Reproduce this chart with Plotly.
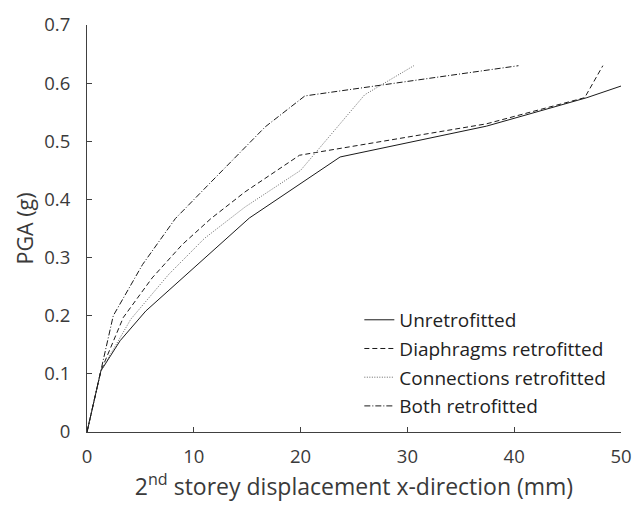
import plotly.graph_objects as go

# Unretrofitted
x_unretro = [0, 1.3, 3.1, 5.5, 15.2, 20.0, 23.7, 37.4, 46.8, 50.0]
y_unretro = [0, 0.105, 0.157, 0.208, 0.368, 0.428, 0.473, 0.526, 0.575, 0.595]

# Diaphragms retrofitted
x_diaph = [0, 1.3, 3.4, 6.1, 8.9, 11.6, 14.8, 19.9, 37.4, 46.6, 48.3]
y_diaph = [0, 0.105, 0.197, 0.265, 0.322, 0.367, 0.413, 0.476, 0.530, 0.575, 0.630]

# Connections retrofitted
x_conn = [0, 1.3, 4.1, 7.65, 11.0, 14.8, 20.0, 26.0, 30.6]
y_conn = [0, 0.105, 0.194, 0.271, 0.333, 0.387, 0.450, 0.580, 0.630]

# Both retrofitted
x_both = [0, 1.3, 2.46, 5.2, 8.27, 11.3, 14.4, 16.7, 20.4, 40.4]
y_both = [0, 0.105, 0.200, 0.288, 0.367, 0.424, 0.481, 0.525, 0.578, 0.630]

names = ["Unretrofitted", "Diaphragms retrofitted", "Connections retrofitted", "Both retrofitted"]

x_ticks = [0, 10, 20, 30, 40, 50]
y_ticks = [0, 0.1, 0.2, 0.3, 0.4, 0.5, 0.6, 0.7]
y_ticklabels = ["0", "0.1", "0.2", "0.3", "0.4", "0.5", "0.6", "0.7"]

line_col = "#1a1a1a"
axis_col = "#404040"
text_col = "#3a3a3a"
font_family = "'Open Sans', sans-serif"

series = [
    (x_unretro, y_unretro, "solid", line_col),
    (x_diaph, y_diaph, "5px,3px", line_col),
    (x_conn, y_conn, "1px,1.5px", "#666666"),
    (x_both, y_both, "6px,2px,1px,2px", line_col),
]

fig = go.Figure()
for i, ((xs, ys, dash, col), nm) in enumerate(zip(series, names)):
    fig.add_trace(go.Scatter(
        x=xs, y=ys, mode="lines", name=nm, legendgroup=f"g{i}",
        line=dict(color=col, width=1, dash=dash),
    ))

fig.update_layout(
    width=643, height=509,
    margin=dict(l=86.5, r=11, t=22, b=77),
    paper_bgcolor="white", plot_bgcolor="white",
    font=dict(family=font_family, size=18, color=text_col),
    showlegend=True,
    legend=dict(
        x=0.51, y=0.322, xanchor="left", yanchor="top",
        bgcolor="rgba(0,0,0,0)", borderwidth=0,
        font=dict(size=19, color="#222222"),
        tracegroupgap=1, itemwidth=30,
    ),
    xaxis=dict(
        range=[0, 50], tickvals=x_ticks, ticks="inside", ticklen=5,
        tickcolor=axis_col, showline=True, linecolor=axis_col, linewidth=1,
        showgrid=False, zeroline=False, mirror=False,
        tickfont=dict(size=18.5, color=text_col),
        ticklabelstandoff=8,
        title=dict(text="2<sup>nd</sup> storey displacement x-direction (mm)",
                   font=dict(size=23, color=text_col), standoff=6),
    ),
    yaxis=dict(
        range=[0, 0.7], tickvals=y_ticks, ticktext=y_ticklabels,
        ticks="inside", ticklen=5,
        tickcolor=axis_col, showline=True, linecolor=axis_col, linewidth=1,
        showgrid=False, zeroline=False, mirror=False,
        tickfont=dict(size=18.5, color=text_col),
        ticklabelstandoff=12,
        title=dict(text="PGA (g)", font=dict(size=21.5, color=text_col), standoff=4),
    ),
)

fig.write_html("out.html")
